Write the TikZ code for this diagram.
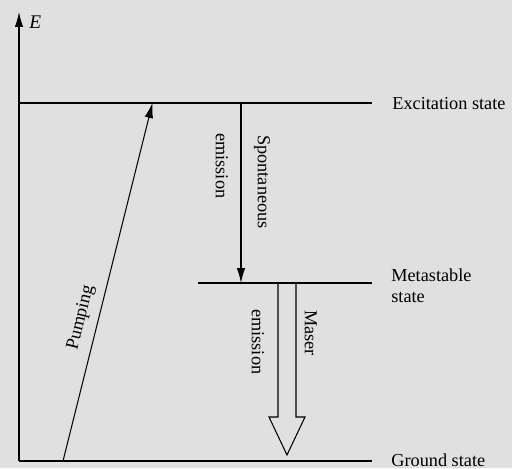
\documentclass[tikz,border=0pt]{standalone}
\usepackage{fontspec}
\setmainfont{Liberation Serif}
\usetikzlibrary{arrows.meta}
\definecolor{bggray}{RGB}{224,224,224}

\begin{document}
\begin{tikzpicture}[x=0.02cm, y=0.02cm, >={Latex[length=3mm,width=1.7mm]},
  level/.style={line width=0.6pt},
  statelbl/.style={anchor=west, inner sep=0pt, align=left,
    font=\fontsize{10.4}{12}\selectfont},
  vlbl/.style={anchor=base west, inner sep=0pt, rotate=-90,
    font=\fontsize{10.4}{12}\selectfont},
  slantlbl/.style={anchor=base west, inner sep=0pt, rotate=76,
    font=\fontsize{10.4}{12}\selectfont}]
  % ---------- paper ----------
  \fill[bggray] (0,0) rectangle (512,468);
  \useasboundingbox (0,0) rectangle (512,468);
  % ---------- energy axis ----------
  \coordinate (origin) at (19,7);
  \coordinate (axistop) at (19,456);
  \draw[line width=0.6pt, ->] (origin) -- (axistop);
  \node[anchor=west, inner sep=0pt] (elabel) at (29,446)
    {\fontsize{11}{12}\selectfont\textit{E}};
  % ---------- levels ----------
  \coordinate (exleft) at (19,365);
  \coordinate (exright) at (372,365);
  \coordinate (msleft) at (198,185);
  \coordinate (msright) at (372,185);
  \coordinate (grright) at (372,7);
  \draw[level] (exleft) -- (exright);
  \draw[level] (msleft) -- (msright);
  \draw[level] (origin) -- (grright);
  \node[statelbl] (exstate) at (392,364) {Excitation state};
  \node[statelbl] (msstate) at (391,182) {Metastable\\state};
  \node[statelbl] (grstate) at (391,8) {Ground state};
  % ---------- pumping ----------
  \coordinate (pumpfrom) at (63,7);
  \coordinate (pumpto) at (152.5,365);
  \draw[line width=0.6pt, ->] (pumpfrom) -- (pumpto);
  \node[slantlbl] (pumplbl) at (77,117) {Pumping};
  % ---------- spontaneous emission ----------
  \coordinate (sponfrom) at (241,365);
  \coordinate (sponto) at (241,185);
  \draw[line width=0.6pt, ->] (sponfrom) -- (sponto);
  \node[vlbl] (sponlbl) at (258,333) {Spontaneous};
  \node[vlbl] (sponem) at (216,335) {emission};
  % ---------- maser emission (hollow arrow) ----------
  \coordinate (maser) at (287,185);
  \draw[line width=0.6pt] (maser) ++(-9,0) -- ++(0,-134) -- ++(-9,0)
    -- (287,13) -- (305,51) -- ++(-9,0) -- ++(0,134);
  \node[vlbl] (maserlbl) at (305,158) {Maser};
  \node[vlbl] (maserem) at (252,159) {emission};
\end{tikzpicture}
\end{document}
